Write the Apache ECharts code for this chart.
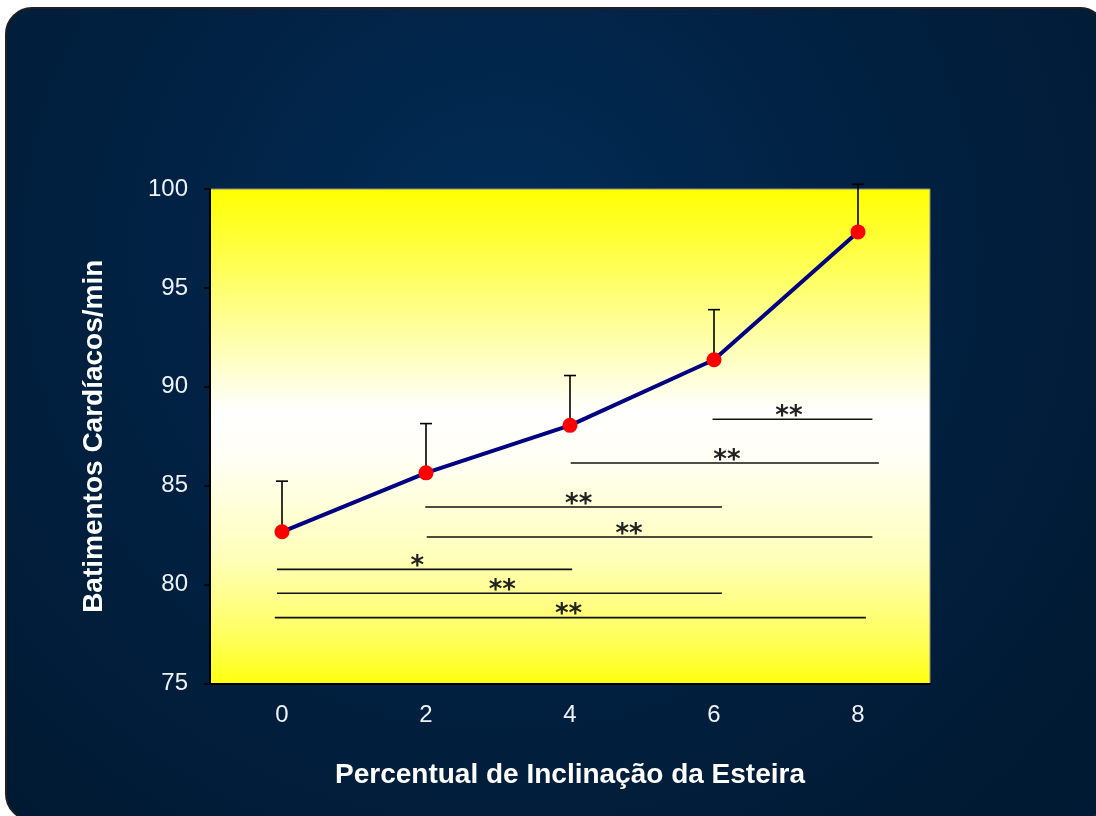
<!DOCTYPE html>
<html>
<head>
<meta charset="utf-8">
<script src="https://cdn.jsdelivr.net/npm/echarts@6/dist/echarts.min.js"></script>
<style>
  html, body { margin: 0; padding: 0; background: #ffffff; }
  #chart { width: 1096px; height: 816px; }
</style>
</head>
<body>
<div id="chart"></div>
<script>
// Treadmill incline (%) vs heart rate (beats/min): means with upward SD bars
const inclines = [0, 2, 4, 6, 8];
const heartRate = [82.67, 85.65, 88.05, 91.37, 97.83];
const sdUp = [2.56, 2.49, 2.52, 2.53, 2.41];
const yTicks = [75, 80, 85, 90, 95, 100];

// Significance brackets between incline levels (data units)
const sigFrom = [-0.07, -0.07, -0.10, 1.99, 2.01, 4.01, 5.98];
const sigTo = [4.03, 6.11, 8.11, 6.11, 8.20, 8.29, 8.20];
const sigLevel = [80.77, 79.56, 78.33, 83.92, 82.41, 86.15, 88.36];
const sigMarkAt = [1.88, 3.06, 3.98, 4.12, 4.82, 6.18, 7.04];
const sigMark = ['*', '**', '**', '**', '**', '**', '**'];

const chart = echarts.init(document.getElementById('chart'));

const meanPoints = inclines.map((x, i) => [x, heartRate[i]]);
const errData = inclines.map((x, i) => [x, heartRate[i], heartRate[i] + sdUp[i]]);
const sigData = sigFrom.map((a, i) => [a, sigTo[i], sigLevel[i], sigMarkAt[i], sigMark[i]]);

const labelFont = '"Liberation Sans", Arial, sans-serif';

chart.setOption({
  backgroundColor: '#ffffff',
  animation: false,
  graphic: [{
    type: 'rect',
    z: -100,
    silent: true,
    shape: { x: 6, y: 8, width: 1100, height: 812, r: 26 },
    style: {
      fill: {
        type: 'radial', x: 0.45, y: 0.3, r: 0.9,
        colorStops: [
          { offset: 0, color: '#022c56' },
          { offset: 0.45, color: '#012244' },
          { offset: 1, color: '#011a33' }
        ]
      },
      stroke: '#202020',
      lineWidth: 2
    }
  }],
  grid: {
    left: 210, right: 166, top: 189, bottom: 132.5,
    show: true,
    borderColor: '#8a8a8a',
    borderWidth: 1,
    backgroundColor: {
      type: 'linear', x: 0, y: 0, x2: 0, y2: 1,
      colorStops: [
        { offset: 0, color: '#ffff00' },
        { offset: 0.12, color: '#ffff40' },
        { offset: 0.3, color: '#ffffa8' },
        { offset: 0.45, color: '#ffffff' },
        { offset: 0.55, color: '#fffff4' },
        { offset: 0.75, color: '#ffffb8' },
        { offset: 0.9, color: '#ffff60' },
        { offset: 1, color: '#ffff10' }
      ]
    }
  },
  xAxis: {
    type: 'value',
    min: -1, max: 9, interval: 1,
    name: 'Percentual de Inclinação da Esteira',
    nameLocation: 'middle',
    nameGap: 78,
    nameTextStyle: { color: '#ffffff', fontSize: 28, fontWeight: 'bold', fontFamily: labelFont },
    axisLine: { show: true, onZero: false, lineStyle: { color: '#000000', width: 2 } },
    axisTick: { show: false },
    splitLine: { show: false },
    axisLabel: {
      color: '#eef2f8', fontSize: 24, fontFamily: labelFont, margin: 20,
      formatter: v => (inclines.indexOf(v) >= 0 ? String(v) : '')
    }
  },
  yAxis: {
    type: 'value',
    min: yTicks[0], max: yTicks[yTicks.length - 1], interval: 5,
    name: 'Batimentos Cardíacos/min',
    nameLocation: 'middle',
    nameGap: 102,
    nameTextStyle: { color: '#ffffff', fontSize: 28, fontWeight: 'bold', fontFamily: labelFont },
    axisLine: { show: true, onZero: false, lineStyle: { color: '#000000', width: 2 } },
    axisTick: { show: true, length: 6, lineStyle: { color: '#000000', width: 1.5 } },
    splitLine: { show: false },
    axisLabel: { color: '#eef2f8', fontSize: 24, fontFamily: labelFont, margin: 22 }
  },
  series: [
    {
      // significance brackets with their marks
      type: 'custom',
      clip: false,
      z: 2,
      data: sigData,
      renderItem: (params, api) => {
        const p1 = api.coord([api.value(0), api.value(2)]);
        const p2 = api.coord([api.value(1), api.value(2)]);
        const pm = api.coord([api.value(3), api.value(2)]);
        return {
          type: 'group',
          children: [
            { type: 'line', shape: { x1: p1[0], y1: p1[1], x2: p2[0], y2: p2[1] },
              style: { stroke: '#111111', lineWidth: 1.6 } },
            { type: 'text',
              style: { x: pm[0], y: pm[1] - 2, text: sigData[params.dataIndex][4],
                       fill: '#222222', font: 'bold 26px "DejaVu Sans", sans-serif',
                       align: 'center', verticalAlign: 'middle' } }
          ]
        };
      }
    },
    {
      // upward SD bars
      type: 'custom',
      clip: false,
      z: 3,
      data: errData,
      renderItem: (params, api) => {
        const base = api.coord([api.value(0), api.value(1)]);
        const top = api.coord([api.value(0), api.value(2)]);
        const cap = 6;
        return {
          type: 'group',
          children: [
            { type: 'line', shape: { x1: base[0], y1: base[1], x2: top[0], y2: top[1] },
              style: { stroke: '#000000', lineWidth: 1.6 } },
            { type: 'line', shape: { x1: top[0] - cap, y1: top[1], x2: top[0] + cap, y2: top[1] },
              style: { stroke: '#000000', lineWidth: 1.6 } }
          ]
        };
      }
    },
    {
      type: 'line',
      z: 4,
      data: meanPoints,
      symbol: 'circle',
      symbolSize: 15,
      itemStyle: { color: '#ff0000', borderWidth: 0 },
      lineStyle: { color: '#000080', width: 4 }
    }
  ]
});
</script>
</body>
</html>
